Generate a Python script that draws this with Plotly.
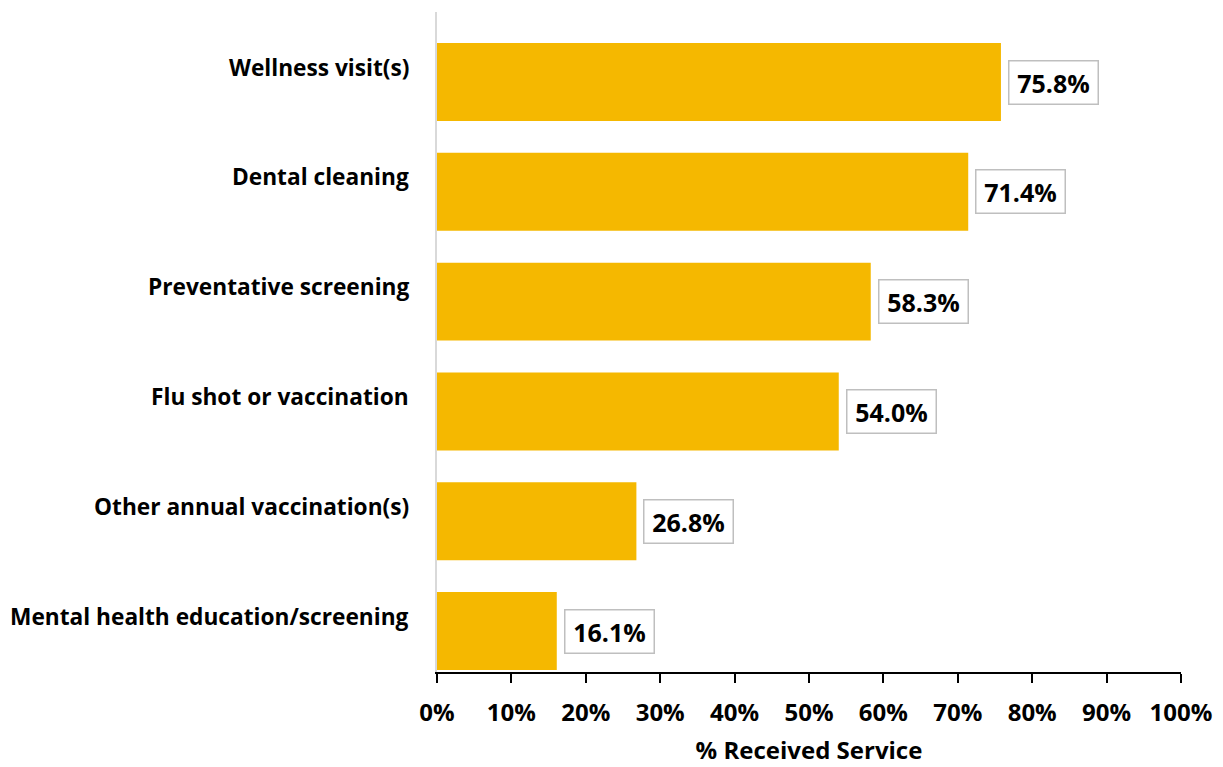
import plotly.graph_objects as go

categories = [
    "Wellness visit(s)",
    "Dental cleaning",
    "Preventative screening",
    "Flu shot or vaccination",
    "Other annual vaccination(s)",
    "Mental health education/screening",
]
values = [75.8, 71.4, 58.3, 54.0, 26.8, 16.1]
x_ticks = list(range(0, 101, 10))
x_tick_labels = [f"{t}%" for t in x_ticks]

FONT = "Open Sans"
BAR_COLOR = "#F5B800"

fig = go.Figure(
    go.Bar(
        x=values,
        y=categories,
        orientation="h",
        marker=dict(color=BAR_COLOR, line=dict(width=0)),
        width=0.71,
        hoverinfo="skip",
    )
)

annotations = []
for cat, v in zip(categories, values):
    annotations.append(dict(
        x=v, y=cat, xref="x", yref="y",
        text=f"<b>{v:.1f}%</b>",
        showarrow=False, xanchor="left", yanchor="middle",
        xshift=7, yshift=0,
        width=78, height=32, align="center",
        font=dict(family=FONT, size=25, color="black"),
        bgcolor="white", bordercolor="#BFBFBF", borderwidth=1.5, borderpad=5,
    ))
    annotations.append(dict(
        x=0, y=cat, xref="paper", yref="y",
        text=f"<b>{cat}</b>",
        showarrow=False, xanchor="right", yanchor="middle",
        xshift=-26, yshift=15,
        font=dict(family=FONT, size=22.7, color="black"),
    ))

fig.update_layout(
    width=1223, height=767,
    margin=dict(l=429, r=50, t=4, b=103),
    plot_bgcolor="white", paper_bgcolor="white",
    showlegend=False,
    annotations=annotations,
    xaxis=dict(
        range=[0, 100],
        tickvals=x_ticks, ticktext=x_tick_labels,
        tickfont=dict(family=FONT, size=24, color="black", weight="bold"),
        ticklabelstandoff=9,
        showgrid=False, zeroline=False,
        showline=True, linecolor="black", linewidth=1.5,
        ticks="outside", ticklen=9, tickcolor="black", tickwidth=1.5,
        title=dict(text="<b>% Received Service</b>", font=dict(family=FONT, size=24, color="black"), standoff=16),
        fixedrange=True,
    ),
    yaxis=dict(
        categoryorder="array", categoryarray=categories,
        range=[5.373, -0.6375],
        showticklabels=False,
        showgrid=False, zeroline=False,
        showline=True, linecolor="#D9D9D9", linewidth=2,
        ticks="",
        fixedrange=True,
    ),
)

fig.write_html("out.html")
